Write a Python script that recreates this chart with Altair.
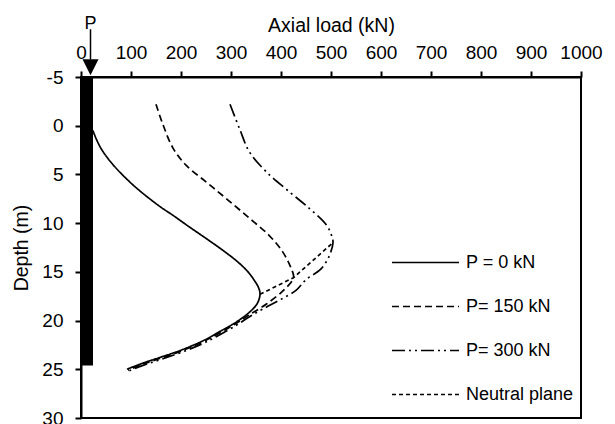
import altair as alt
import pandas as pd

# ---------------- data ----------------
series_names = ["P = 0 kN", "P= 150 kN", "P= 300 kN", "Neutral plane"]

p0_load = [24, 30, 42, 64, 92, 118, 158, 184, 217, 251, 284, 314, 334, 347, 355, 358, 353, 340, 312, 282, 247, 202, 157, 122, 92]
p0_depth = [0.5, 1.3, 2.5, 4.0, 5.5, 6.7, 8.3, 9.2, 10.4, 11.6, 12.8, 14.0, 15.0, 15.9, 16.6, 17.3, 18.2, 19.0, 20.1, 21.0, 22.0, 23.0, 23.8, 24.4, 25.0]

p150_load = [150, 164, 184, 211, 251, 291, 337, 377, 404, 420, 425, 407, 371, 337, 307, 247, 202, 157, 122, 94]
p150_depth = [-2.2, -0.1, 2.3, 4.1, 5.8, 7.5, 9.5, 11.3, 13.0, 14.6, 15.6, 16.8, 18.3, 19.4, 20.4, 22.1, 23.1, 23.9, 24.5, 25.1]

p300_load = [298, 317, 337, 370, 417, 457, 491, 502, 504, 497, 480, 450, 430, 397, 364, 337, 310, 250, 204, 159, 124, 94]
p300_depth = [-2.2, 0.3, 2.7, 4.7, 6.8, 8.5, 10.2, 11.4, 12.0, 13.3, 14.7, 15.8, 16.9, 17.9, 18.8, 19.6, 20.5, 22.2, 23.2, 24.0, 24.6, 25.2]

neutral_load = [358, 425, 504]
neutral_depth = [17.3, 15.6, 12.0]

pile_load = [0, 24]
pile_depth = [-5, 24.6]

arrow_load = [19]
arrow_depth = [-9.9, -6.8]
arrow_head_depth = [-6.0]
arrow_label = ["P"]
arrow_label_depth = [-10.4]

x_ticks = [0, 100, 200, 300, 400, 500, 600, 700, 800, 900, 1000]
y_ticks = [-5, 0, 5, 10, 15, 20, 25, 30]

dashes = [[1, 0], [7, 4], [13, 4, 2, 4, 2, 4], [4, 3]]

# ---------------- tables ----------------
rows = []
for name, loads, depths in [
    (series_names[0], p0_load, p0_depth),
    (series_names[1], p150_load, p150_depth),
    (series_names[2], p300_load, p300_depth),
]:
    for i, (l, d) in enumerate(zip(loads, depths)):
        rows.append({"series": name, "load": l, "depth": d, "i": i})
curves = pd.DataFrame(rows)

neutral = pd.DataFrame({
    "series": [series_names[3]] * len(neutral_load),
    "load": neutral_load,
    "depth": neutral_depth,
    "i": list(range(len(neutral_load))),
})

pile = pd.DataFrame({"x0": [pile_load[0]], "x1": [pile_load[1]],
                     "y0": [pile_depth[0]], "y1": [pile_depth[1]]})
arrow = pd.DataFrame({"x": arrow_load, "y0": [arrow_depth[0]], "y1": [arrow_depth[1]],
                      "yh": arrow_head_depth, "yl": arrow_label_depth, "label": arrow_label})

FONT = "Liberation Sans"
x_scale = alt.Scale(domain=[0, 1000], nice=False, zero=False)
y_scale = alt.Scale(domain=[-5, 30], reverse=True, nice=False, zero=False)
dash_scale = alt.Scale(domain=series_names, range=dashes)

legend = alt.Legend(
    title=None, orient="none", legendX=310, legendY=151,
    symbolType="stroke", symbolSize=4489, symbolStrokeWidth=1.6,
    symbolStrokeColor="black", labelOffset=6, labelFontSize=18,
    labelFont=FONT, labelColor="black", rowPadding=-18,
)

X_TITLE = "Axial load (kN)"
Y_TITLE = "Depth (m)"
LABEL_EXPR = "'' + datum.value"
x_axis = alt.Axis(orient="top", title=X_TITLE, values=x_ticks, labelExpr=LABEL_EXPR,
                  labelOverlap=False, labelFlush=False, labelPadding=9, titlePadding=8)
y_axis = alt.Axis(title=Y_TITLE, values=y_ticks, labelExpr=LABEL_EXPR,
                  labelOverlap=False, labelFlush=False, labelPadding=12, titlePadding=10)


def X(field):
    return alt.X(field, scale=x_scale, axis=x_axis, title=X_TITLE)


def Y(field):
    return alt.Y(field, scale=y_scale, axis=y_axis, title=Y_TITLE)


curve_layer = alt.Chart(curves).mark_line(
    interpolate="catmull-rom", strokeWidth=1.7, color="black"
).encode(
    x=X("load:Q"),
    y=Y("depth:Q"),
    strokeDash=alt.StrokeDash("series:N", scale=dash_scale, legend=legend),
    order="i:Q",
)

neutral_layer = alt.Chart(neutral).mark_line(strokeWidth=1.7, color="black").encode(
    x=X("load:Q"),
    y=Y("depth:Q"),
    strokeDash=alt.StrokeDash("series:N", scale=dash_scale, legend=legend),
    order="i:Q",
)

pile_layer = alt.Chart(pile).mark_rect(color="black").encode(
    x=X("x0:Q"),
    x2="x1:Q",
    y=Y("y0:Q"),
    y2="y1:Q",
)

arrow_rule = alt.Chart(arrow).mark_rule(color="black", strokeWidth=1.5).encode(
    x=X("x:Q"),
    y=Y("y0:Q"),
    y2="y1:Q",
)

arrow_head = alt.Chart(arrow).mark_point(
    shape="M-1,-1L1,-1L0,1Z", filled=True, size=256, color="black", opacity=1
).encode(
    x=X("x:Q"),
    y=Y("yh:Q"),
)

arrow_text = alt.Chart(arrow).mark_text(
    font=FONT, fontSize=18, color="black", baseline="middle", align="center"
).encode(
    x=X("x:Q"),
    y=Y("yl:Q"),
    text="label:N",
)

chart = alt.layer(
    pile_layer, curve_layer, neutral_layer, arrow_rule, arrow_head, arrow_text
).properties(
    width=500, height=341,
    background="white",
    autosize=alt.AutoSizeParams(type="none"),
    padding={"left": 81, "top": 77, "right": 34, "bottom": 6},
).configure_view(
    stroke="black", strokeWidth=2
).configure_axis(
    domainColor="black", domainWidth=2, tickColor="black", tickWidth=2,
    tickSize=6, grid=False, labelFont=FONT, labelFontSize=19, labelColor="black",
    titleFont=FONT, titleFontSize=19.5, titleFontWeight="normal", titleColor="black",
)

chart.save("out.html", embed_options={"renderer": "svg", "actions": False})
